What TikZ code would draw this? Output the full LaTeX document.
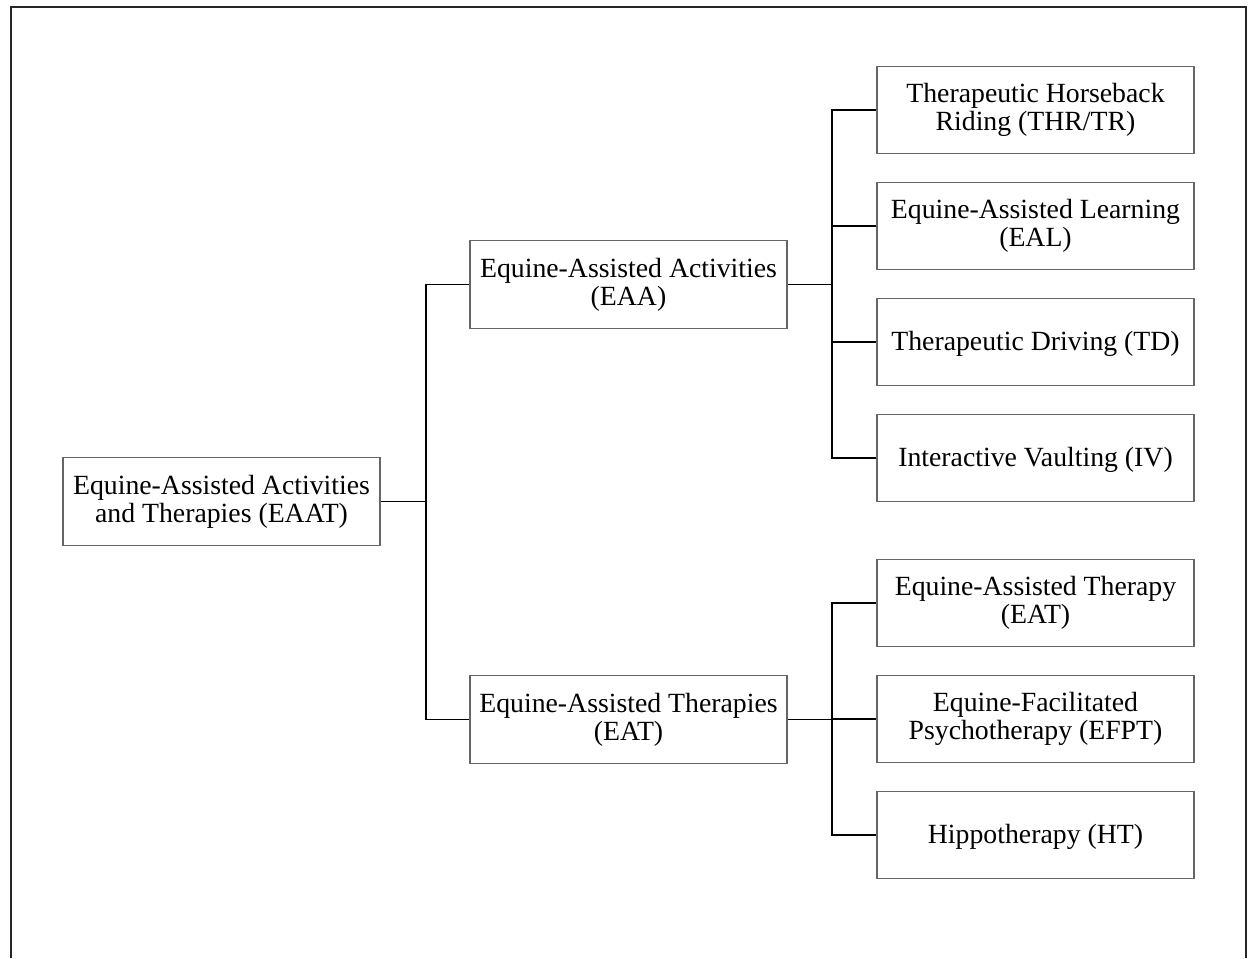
\documentclass[tikz,border=0pt]{standalone}
\usepackage{fontspec}
\setmainfont{Liberation Serif}

\begin{document}
\begin{tikzpicture}[
    box/.style={draw=black!60, line width=0.8pt, minimum width=6.34cm, minimum height=1.75cm,
                align=center, inner sep=0pt, font=\fontsize{15.8}{15.8}\selectfont,
                execute at begin node={\rule{0pt}{13pt}}},
    link/.style={line width=1.1pt}]
    \useasboundingbox (0,0) rectangle (24.96,19.16);
    % open frame round the chart
    \draw[line width=0.9pt, black!85] (0.22,0) -- (0.22,19.02) -- (24.92,19.02) -- (24.92,0);

    \node[box] (eaat) at (4.43, 9.13) {Equine-Assisted Activities\\and Therapies (EAAT)};

    \node[box] (eaa) at (12.57, 13.47) {Equine-Assisted Activities\\(EAA)};
    \node[box] (eat) at (12.57, 4.77) {Equine-Assisted Therapies\\(EAT)};

    \node[box] (thr) at (20.71, 16.96) {Therapeutic Horseback\\Riding (THR/TR)};
    \node[box] (eal) at (20.71, 14.64) {Equine-Assisted Learning\\(EAL)};
    \node[box] (td) at (20.71, 12.32) {Therapeutic Driving (TD)};
    \node[box] (iv) at (20.71, 10.00) {Interactive Vaulting (IV)};

    \node[box] (eatt) at (20.71, 7.10) {Equine-Assisted Therapy\\(EAT)};
    \node[box] (efpt) at (20.71, 4.78) {Equine-Facilitated\\Psychotherapy (EFPT)};
    \node[box] (ht) at (20.71, 2.46) {Hippotherapy (HT)};

    % forks
    \coordinate (forkroot) at (8.52, 9.13);
    \coordinate (forkeaa) at (16.64, 13.47);
    \coordinate (forkeat) at (16.64, 4.77);

    \draw[link] (eaat.east) -- (forkroot);
    \draw[link] (forkroot) |- (eaa.west);
    \draw[link] (forkroot) |- (eat.west);

    \draw[link] (eaa.east) -- (forkeaa);
    \foreach \leaf in {thr, eal, td, iv}
        \draw[link] (forkeaa) |- (\leaf.west);

    \draw[link] (eat.east) -- (forkeat);
    \foreach \leaf in {eatt, efpt, ht}
        \draw[link] (forkeat) |- (\leaf.west);
\end{tikzpicture}
\end{document}
